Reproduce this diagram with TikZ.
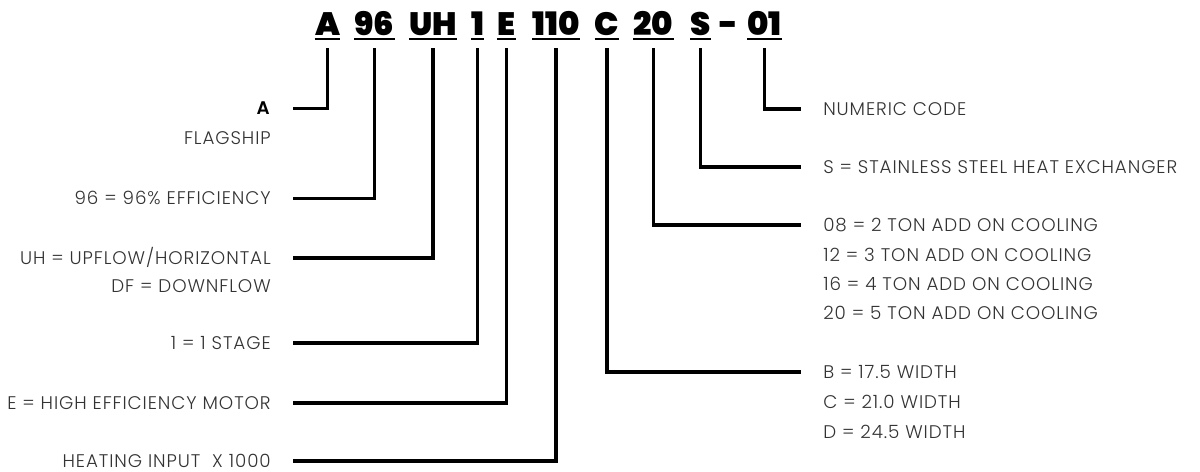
\documentclass[tikz,border=0pt]{standalone}
\usepackage{fontspec}
\setmainfont{Poppins Light}[BoldFont=Poppins SemiBold, LetterSpace=5]
\newfontfamily\codefont{Poppins Black}
\usepackage{tikz}
\definecolor{txtgray}{HTML}{333333}
\tikzset{
  code/.style={font=\codefont\fontsize{23}{23}\selectfont, inner sep=0pt,
    text depth=0pt, anchor=base},
  uline/.style={line width=1.4pt},
  lead/.style={line width=2.4pt, shorten <=0.3cm, shorten >=0.55cm},
  lbl/.style={inner sep=0pt, text height=8.9pt, text depth=0pt, text=txtgray,
    font=\fontsize{13}{15}\selectfont},
  lblL/.style={lbl, anchor=east},
  lblR/.style={lbl, anchor=west}
}

\begin{document}
\begin{tikzpicture}[x=0.025cm, y=-0.025cm]
\useasboundingbox (0,0) rectangle (1200,472);

% ---------------- Model number ----------------
\foreach \n/\t/\x in {
  cA/A/327.5, c96/96/374.5, cUH/UH/433, cOne/1/477.5, cE/E/506.5,
  cHeat/110/556, cC/C/607, cTon/20/653.5, cS/S/700.5, cNum/01/764.5
}{
  \node[code] (\n) at (\x,36) {\t};
  \draw[uline] ([yshift=-0.085cm]\n.base west) -- ([yshift=-0.085cm]\n.base east);
}
\node[code] (dash) at (729,36) {-};

% ---------------- Left labels ----------------
\node[lblL, text=black] (lA) at (271,108.5) {\textbf{A}};
\node[lblL] (lFlag) at (271,138) {FLAGSHIP};
\node[lblL] (l96) at (271,198.5) {96 = 96\% EFFICIENCY};
\node[lblL] (lUH) at (271,258) {UH = UPFLOW/HORIZONTAL};
\node[lblL] (lDF) at (271,286) {DF = DOWNFLOW};
\node[lblL] (lOne) at (271,343) {1 = 1 STAGE};
\node[lblL] (lE) at (271,403) {E = HIGH EFFICIENCY MOTOR};
\node[lblL] (lHeat) at (271,461) {HEATING INPUT~~X 1000};

% ---------------- Right labels ----------------
\node[lblR] (lNum) at (823,109) {NUMERIC CODE};
\node[lblR] (lS) at (823,167) {S = STAINLESS STEEL HEAT EXCHANGER};
\node[lblR] (l08) at (823,225) {08 = 2 TON ADD ON COOLING};
\node[lblR] (l12) at (823,255) {12 = 3 TON ADD ON COOLING};
\node[lblR] (l16) at (823,284) {16 = 4 TON ADD ON COOLING};
\node[lblR] (l20) at (823,313) {20 = 5 TON ADD ON COOLING};
\node[lblR] (lB) at (823,372) {B = 17.5 WIDTH};
\node[lblR] (lC) at (823,402) {C = 21.0 WIDTH};
\node[lblR] (lD) at (823,432) {D = 24.5 WIDTH};

% ---------------- Leaders ----------------
\foreach \a/\b in {cA/lA, c96/l96, cUH/lUH, cOne/lOne, cE/lE, cHeat/lHeat,
  cNum/lNum, cS/lS, cTon/l08, cC/lB}{
  \draw[lead] (\a.south) |- (\b);
}

\end{tikzpicture}
\end{document}
